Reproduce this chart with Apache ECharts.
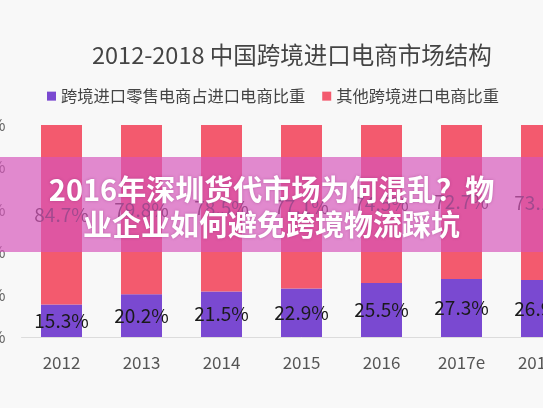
<!DOCTYPE html>
<html><head><meta charset="utf-8">
<script src="https://cdn.jsdelivr.net/npm/echarts@6/dist/echarts.min.js"></script>
<style>
html,body{margin:0;padding:0;overflow:hidden;background:#f8f8f8;width:543px;height:408px;}
#c{width:600px;height:408px;}
</style></head>
<body><div id="c"></div>
<script>
const categories = ['2012','2013','2014','2015','2016','2017e','2018e'];
const retailShare = [15.3, 20.2, 21.5, 22.9, 25.5, 27.3, 26.9];
const otherShare = [84.7, 79.8, 78.5, 77.1, 74.5, 72.7, 73.1];
const seriesNames = ['跨境进口零售电商占进口电商比重', '其他跨境进口电商比重'];
const titleText = '2012-2018 中国跨境进口电商市场结构';
const bannerText = '2016年深圳货代市场为何混乱？物\n业企业如何避免跨境物流踩坑';

const FONT = '"Noto Sans CJK SC", "Noto Sans", sans-serif';
const chart = echarts.init(document.getElementById('c'));
const labelCfg = {
  show: true, position: 'inside', formatter: p => p.value + '%',
  fontSize: 19, color: '#1a1a1a', fontFamily: FONT
};
chart.setOption({
  backgroundColor: '#f8f8f8',
  animation: false,
  textStyle: { fontFamily: FONT },
  title: {
    text: titleText, left: 87, top: 38,
    textStyle: { fontSize: 23.5, fontWeight: 'normal', color: '#444', fontFamily: FONT }
  },
  legend: {
    left: 42, top: 83, icon: 'rect', itemWidth: 9, itemHeight: 9, itemGap: 17,
    textStyle: { fontSize: 16.3, color: '#444', fontFamily: FONT },
    data: seriesNames
  },
  grid: { left: 21.5, top: 125, width: 560, height: 212, containLabel: false, outerBoundsMode: 'none' },
  xAxis: {
    type: 'category', data: categories,
    axisLine: { lineStyle: { color: '#dcdcdc' } },
    axisTick: { show: false },
    axisLabel: { color: '#555', fontSize: 17, margin: 17, fontFamily: FONT }
  },
  yAxis: {
    type: 'value', min: 0, max: 100, interval: 20,
    axisLabel: { formatter: '{value}%', color: '#666', fontSize: 16, margin: 16, fontFamily: FONT },
    splitLine: { show: false }, axisLine: { show: false }, axisTick: { show: false }
  },
  series: [
    { name: seriesNames[0], type: 'bar', stack: 'a', data: retailShare, barWidth: 41,
      itemStyle: { color: '#7a49d1' }, label: labelCfg },
    { name: seriesNames[1], type: 'bar', stack: 'a', data: otherShare, barWidth: 41,
      itemStyle: { color: '#f35a6e' }, label: Object.assign({}, labelCfg, { color: '#333' }) }
  ],
  graphic: [
    { type: 'rect', z: 100, shape: { x: 0, y: 157, width: 600, height: 95 },
      style: { fill: 'rgba(214,84,186,0.68)' } },
    { type: 'text', z: 101, x: 271.5, y: 207.5,
      style: { text: bannerText, fill: '#fff', font: 'bold 29px ' + FONT,
        textAlign: 'center', textVerticalAlign: 'middle', lineHeight: 35,
        textShadowColor: 'rgba(120,30,100,0.35)', textShadowBlur: 3 } }
  ]
});
</script></body></html>
